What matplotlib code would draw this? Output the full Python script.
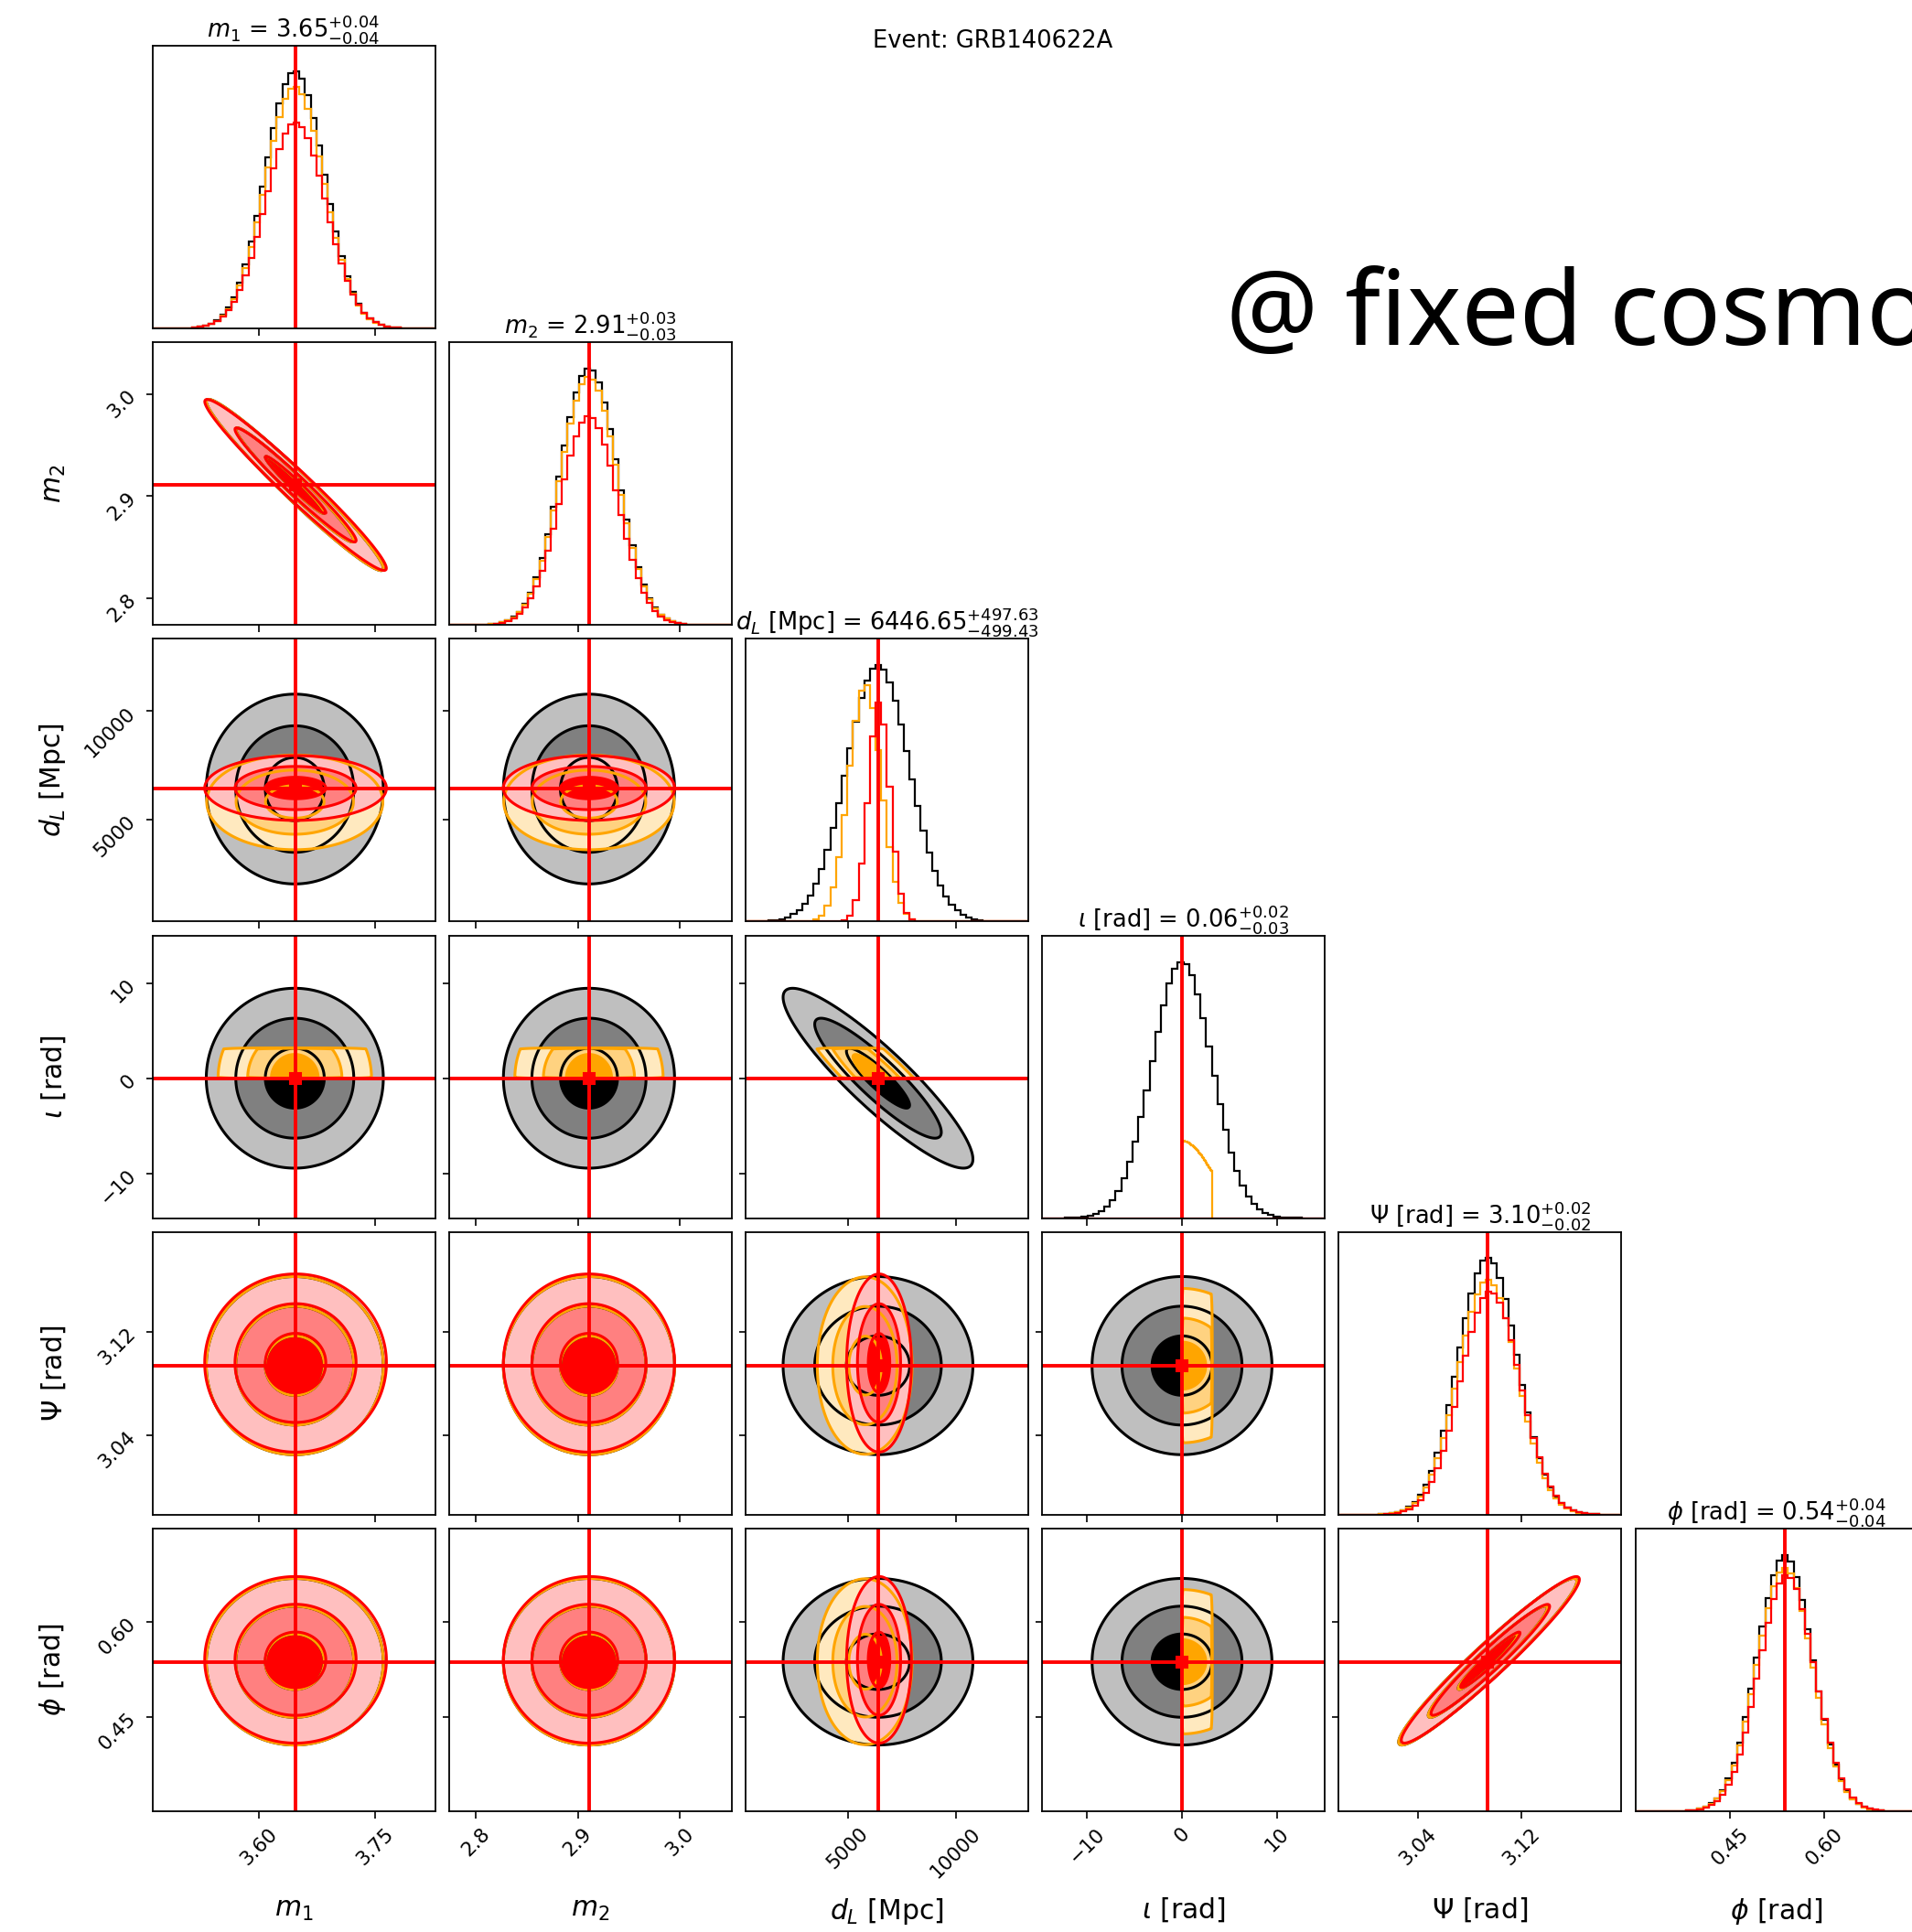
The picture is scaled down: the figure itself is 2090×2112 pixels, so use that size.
import numpy as np
import matplotlib.pyplot as plt
import matplotlib.colors as mcolors

# ---- parameters / axes ----
labels = [r"$m_1$", r"$m_2$", r"$d_L$ [Mpc]", r"$\iota$ [rad]", r"$\Psi$ [rad]", r"$\phi$ [rad]"]
lims = [(3.4625, 3.8266), (2.7735, 3.051), (285.0, 13330.0), (-14.7, 15.0), (2.9785, 3.1975), (0.300, 0.748)]
ticks = [[3.60, 3.75], [2.8, 2.9, 3.0], [5000, 10000], [-10, 0, 10], [3.04, 3.12], [0.45, 0.60]]
truths = [3.647, 2.911, 6425.0, 0.0, 3.094, 0.537]

# titles of the diagonal panels (last run)
title_med = ["3.65", "2.91", "6446.65", "0.06", "3.10", "0.54"]
title_up = ["0.04", "0.03", "497.63", "0.02", "0.02", "0.04"]
title_lo = ["0.04", "0.03", "499.43", "0.03", "0.02", "0.04"]

# ---- the three runs (gaussian summaries) ----
black_mean = [3.646, 2.911, 6400.0, 0.0, 3.094, 0.537]
black_sigma = [0.038, 0.028, 1460.0, 3.15, 0.023, 0.044]
black_corr = [(0, 1, -0.975), (2, 3, -0.90), (4, 5, 0.965)]
black_peak = [0.91, 0.909, 0.906, 0.907, 0.91, 0.905]

orange_mean = [3.646, 2.911, 6400.0, 0.0, 3.094, 0.537]
orange_sigma = [0.038, 0.028, 1460.0, 3.15, 0.023, 0.044]
orange_corr = [(0, 1, -0.975), (2, 3, -0.90), (4, 5, 0.965)]
orange_peak = [0.855, 0.878, 0.84, 0.273, 0.832, 0.86]
orange_cut = (3, 0.0, 3.14)  # iota kept in [0, pi]

red_mean = [3.647, 2.911, 6447.0, 0.06, 3.096, 0.540]
red_sigma = [0.039, 0.028, 498.0, 0.025, 0.023, 0.044]
red_corr = [(0, 1, -0.975), (4, 5, 0.965)]
red_peak = [0.73, 0.74, 0.776, 1.0, 0.79, 0.835]

levels_q = [0.9889, 0.8647, 0.3935]  # 3, 2, 1 sigma


def make_run(mean, sigma, corr, peak, color, cut=None):
    sig = np.array(sigma)
    cov = np.diag(sig ** 2)
    for a, b, r in corr:
        cov[a, b] = cov[b, a] = r * sig[a] * sig[b]
    return dict(mean=np.array(mean), sig=sig, cov=cov, peak=peak, color=color, cut=cut)


runs = [
    make_run(black_mean, black_sigma, black_corr, black_peak, "black"),
    make_run(orange_mean, orange_sigma, orange_corr, orange_peak, "orange", orange_cut),
    make_run(red_mean, red_sigma, red_corr, red_peak, "red"),
]


def gauss(run, idx, pts):
    C = run["cov"][np.ix_(idx, idx)]
    P = np.linalg.inv(C)
    d = [p - run["mean"][k] for p, k in zip(pts, idx)]
    q = 0
    for a in range(len(idx)):
        for b in range(len(idx)):
            q = q + P[a, b] * d[a] * d[b]
    return np.exp(-0.5 * q)


def dens1(run, i, x):
    cut = run["cut"]
    if cut is None:
        return gauss(run, [i], [x])
    t, lo, hi = cut
    if t == i:
        return np.where((x >= lo) & (x <= hi), gauss(run, [i], [x]), 0.0)
    tg = np.linspace(lo, hi, 80)
    return gauss(run, [i, t], [x[:, None], tg[None, :]]).sum(axis=1)


def dens2(run, i, j, X, Y):
    cut = run["cut"]
    if cut is None or cut[0] in (i, j):
        D = gauss(run, [i, j], [X, Y])
        if cut is not None:
            t, lo, hi = cut
            V = X if t == i else Y
            D = np.where((V >= lo) & (V <= hi), D, 0.0)
        return D
    t, lo, hi = cut
    tg = np.linspace(lo, hi, 50)
    return gauss(run, [i, j, t], [X[..., None], Y[..., None], tg[None, None, :]]).sum(axis=-1)


def mix(color, a):
    rgb = np.array(mcolors.to_rgb(color))
    return tuple(a * rgb + (1 - a))


# ---- figure ----
W, H = 2090, 2112
fig = plt.figure(figsize=(W / 100, H / 100), dpi=100)
left0, top0, size, step = 166.5, 50.0, 309.0, 324.2
n = 6
ng = 260
tick_kw = dict(direction="out", length=5.4, width=1.2, labelsize=15.5, pad=5)

for r in range(n):
    for c in range(r + 1):
        x0 = left0 + c * step
        y0 = top0 + r * step
        ax = fig.add_axes([x0 / W, 1 - (y0 + size) / H, size / W, size / H])
        for sp in ax.spines.values():
            sp.set_linewidth(1.3)
        ax.tick_params(**tick_kw)

        if r == c:
            i = c
            for run in runs:
                lo, hi = lims[i]
                if run["cut"] is not None and run["cut"][0] == i:
                    lo, hi = run["cut"][1], run["cut"][2]
                edges = np.linspace(lo, hi, 51)
                centers = 0.5 * (edges[1:] + edges[:-1])
                fine = np.linspace(lo, hi, 4000)
                h = dens1(run, i, centers) / dens1(run, i, fine).max() * run["peak"][i]
                ax.stairs(h, edges, color=run["color"], lw=1.6)
            ax.set_xlim(lims[i])
            ax.set_ylim(0, 1)
            ax.set_yticks([])
            ax.axvline(truths[i], color="red", lw=2.8)
            ax.set_title(f"{labels[i]} = ${title_med[i]}^{{+{title_up[i]}}}_{{-{title_lo[i]}}}$",
                         fontsize=18.5, pad=5)
        else:
            i, j = c, r
            xs = np.linspace(lims[i][0], lims[i][1], ng)
            ys = np.linspace(lims[j][0], lims[j][1], ng)
            X, Y = np.meshgrid(xs, ys)
            for run in runs:
                # a run narrower than one grid cell collapses under the truth line
                if (run["sig"][i] < xs[1] - xs[0]) or (run["sig"][j] < ys[1] - ys[0]):
                    continue
                D = dens2(run, i, j, X, Y)
                flat = np.sort(D.ravel())[::-1]
                cum = np.cumsum(flat)
                cum /= cum[-1]
                V = [flat[min(np.searchsorted(cum, q), flat.size - 1)] for q in levels_q]
                V = np.array(V) + np.arange(3) * 1e-9 * D.max()
                col = run["color"]
                ax.contourf(X, Y, D, levels=list(V) + [D.max() * 1.0001],
                            colors=[mix(col, 0.25), mix(col, 0.5), mix(col, 1.0)])
                ax.contour(X, Y, D, levels=V, colors=[col], linewidths=2.2)
            ax.set_xlim(lims[i])
            ax.set_ylim(lims[j])
            ax.axvline(truths[i], color="red", lw=2.8)
            ax.axhline(truths[j], color="red", lw=2.8)
            ax.plot(truths[i], truths[j], "s", color="red", ms=9.2, mew=1.5)
            ax.set_yticks(ticks[j])
            if c == 0:
                for lab in ax.get_yticklabels():
                    lab.set_rotation(45)
                ax.set_ylabel(labels[j], fontsize=21.5)
                ax.yaxis.set_label_coords(-0.3, 0.5)
            else:
                ax.set_yticklabels([])

        ax.set_xticks(ticks[c])
        if r == n - 1:
            for lab in ax.get_xticklabels():
                lab.set_rotation(45)
            ax.set_xlabel(labels[c], fontsize=21.5)
            ax.xaxis.set_label_coords(0.5, -0.3)
        else:
            ax.set_xticklabels([])

fig.text(1085 / W, 1 - 51.7 / H, "Event: GRB140622A", ha="center", va="baseline", fontsize=18.5)
fig.text(1340 / W, 1 - 376.7 / H, "@ fixed cosmology", ha="left", va="baseline",
         fontsize=81, family="Noto Sans", fontweight="light")

fig.savefig("out.png", dpi=100)
